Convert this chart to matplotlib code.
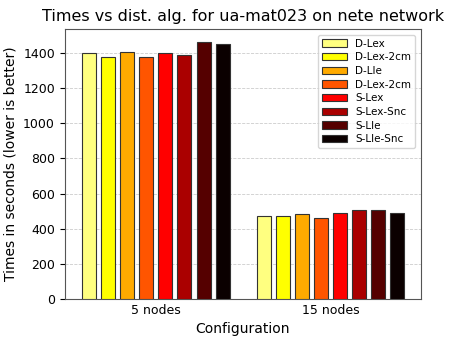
import numpy as np
import matplotlib
matplotlib.use('Agg')
import matplotlib.pyplot as plt

configs = ['5 nodes', '15 nodes']
algs = ['D-Lex', 'D-Lex-2cm', 'D-Lle', 'D-Lex-2cm', 'S-Lex', 'S-Lex-Snc', 'S-Lle', 'S-Lle-Snc']
times_5 = [1402, 1380, 1410, 1380, 1404, 1390, 1463, 1455]
times_15 = [472, 472, 484, 463, 488, 509, 508, 490]
colors = ['#ffff80', '#ffff00', '#ffaa00', '#ff5500', '#ff0000', '#aa0000', '#550000', '#0b0000']

fig = plt.figure(figsize=(4.54, 3.41), dpi=100)
ax = fig.add_axes([0.1425, 0.124, 0.784, 0.79])

ind = np.arange(len(configs))
step = 0.1094
width = 0.08
for k in range(len(algs)):
    vals = [times_5[k], times_15[k]]
    ax.bar(ind + (k - 3.5) * step, vals, width, color=colors[k],
           edgecolor='#333333', linewidth=0.8, label=algs[k], zorder=3)

ax.set_xticks(ind)
ax.set_xticklabels(configs, fontsize=9)
ax.tick_params(axis='x', length=0)
ax.tick_params(axis='y', labelsize=9)
ax.set_xlim(-0.522, 1.517)
ax.set_ylim(0, 1537)
ax.yaxis.grid(True, linestyle='--', color='#cccccc', linewidth=0.6, zorder=0)
for s in ax.spines.values():
    s.set_color('#555555')

ax.set_xlabel('Configuration', fontsize=10)
ax.set_ylabel('Times in seconds (lower is better)', fontsize=10)
ax.set_title('Times vs dist. alg. for ua-mat023 on nete network', fontsize=11.5)
leg = ax.legend(loc='upper right', fontsize=7.5, handlelength=2.4, labelspacing=0.35,
                borderaxespad=0.5)
leg.get_frame().set_edgecolor('#cccccc')

fig.savefig('out.png', dpi=100)
